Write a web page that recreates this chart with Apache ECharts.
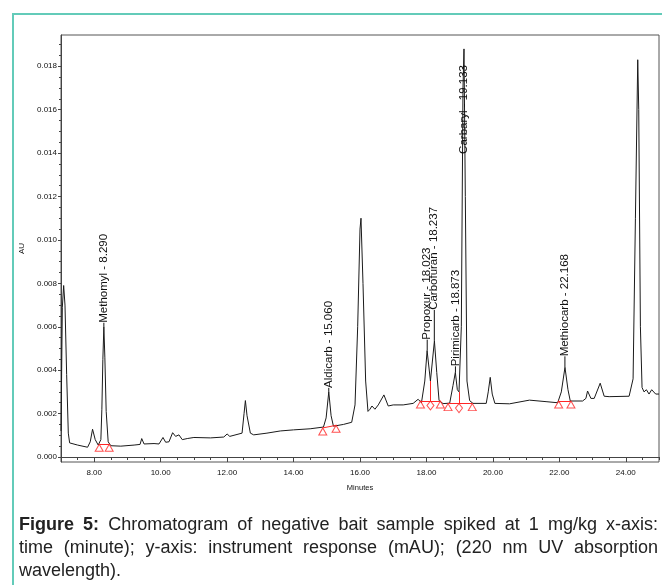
<!DOCTYPE html>
<html>
<head>
<meta charset="utf-8">
<script src="https://cdn.jsdelivr.net/npm/echarts@6/dist/echarts.min.js"></script>
<style>
  body { margin: 0; background: #fff; }
  #wrap { position: relative; width: 662px; height: 585px; overflow: hidden; }
  #frame {
    position: absolute; left: 12px; top: 13px; width: 700px; height: 700px;
    border-left: 2px solid #63cbb9; border-top: 2px solid #63cbb9;
  }
  #chart { position: absolute; left: 0; top: 0; width: 662px; height: 585px; }
  #caption {
    position: absolute; left: 19px; top: 513px; width: 639px;
    font-family: 'Liberation Sans', Arial, sans-serif;
    font-size: 18px; line-height: 23px; color: #222;
  }
  #caption .j { text-align: justify; text-align-last: justify; white-space: nowrap; }
</style>
</head>
<body>
<div id="wrap">
  <div id="frame"></div>
  <div id="chart"></div>
  <div id="caption">
    <div class="j"><b>Figure 5:</b> Chromatogram of negative bait sample spiked at 1 mg/kg x-axis:</div>
    <div class="j">time (minute); y-axis: instrument response (mAU); (220 nm UV absorption</div>
    <div>wavelength).</div>
  </div>
</div>
<script>
// 色谱数据（时间 min / 响应 AU）
const times = [
  7.00, 7.04, 7.08, 7.12, 7.17, 7.22, 7.26, 7.50, 7.80, 7.88, 7.95, 8.03, 8.12,
  8.20, 8.23, 8.26, 8.29, 8.32, 8.36, 8.42, 8.50, 8.80, 9.20, 9.38, 9.43, 9.50,
  9.80, 9.95, 10.07, 10.15, 10.25, 10.36, 10.45, 10.55, 10.65, 10.80, 11.00, 11.50,
  11.90, 12.00, 12.08, 12.45, 12.51, 12.55, 12.60, 12.70, 12.80, 13.20, 13.60,
  14.00, 14.50, 14.90, 14.98, 15.06, 15.13, 15.20, 15.50, 15.75, 15.85, 15.93,
  16.00, 16.03, 16.09, 16.17, 16.24, 16.30, 16.36, 16.45, 16.55, 16.72, 16.85,
  17.00, 17.30, 17.60, 17.75, 17.85, 17.95, 18.02, 18.12, 18.24, 18.31, 18.38,
  18.50, 18.70, 18.80, 18.87, 18.93, 18.98, 19.05, 19.10, 19.13, 19.17, 19.22,
  19.30, 19.40, 19.80, 19.86, 19.92, 19.98, 20.06, 20.50, 21.10, 21.60, 21.95,
  22.06, 22.17, 22.26, 22.33, 22.70, 22.80, 22.85, 22.95, 23.05, 23.23, 23.35,
  23.50, 24.10, 24.22, 24.29, 24.36, 24.39, 24.44, 24.49, 24.55, 24.62, 24.70,
  24.78, 24.90, 25.00
];
const response = [
  0.0012, 0.0069, 0.0079, 0.0070, 0.0038, 0.0011, 0.00065, 0.00055, 0.00045, 0.0007, 0.00128, 0.0008, 0.00055,
  0.0008, 0.0022, 0.0045, 0.0060, 0.0046, 0.0021, 0.0007, 0.00052, 0.0005, 0.00055, 0.00058, 0.00085, 0.0006,
  0.00062, 0.0006, 0.0009, 0.00068, 0.0007, 0.00112, 0.00095, 0.00102, 0.0008, 0.00085, 0.0009, 0.00088,
  0.00092, 0.00106, 0.00095, 0.0011, 0.0020, 0.0026, 0.0019, 0.0011, 0.00102, 0.0011, 0.0012,
  0.00125, 0.0013, 0.00138, 0.0018, 0.0030, 0.0019, 0.00142, 0.0015, 0.0016, 0.0024, 0.0060,
  0.0105, 0.0110, 0.0080, 0.0035, 0.0021, 0.0022, 0.00235, 0.0022, 0.0024, 0.00286, 0.00235,
  0.0024, 0.0024, 0.00247, 0.00266, 0.0025, 0.0035, 0.0049, 0.0035, 0.00535, 0.0039, 0.0026,
  0.00246, 0.00248, 0.0033, 0.0039, 0.0031, 0.0030, 0.0060, 0.0170, 0.0188, 0.0120, 0.0035,
  0.0026, 0.00247, 0.00247, 0.0030, 0.00367, 0.0029, 0.00247, 0.00245, 0.00262, 0.00255, 0.0025,
  0.0030, 0.00413, 0.0031, 0.00258, 0.00258, 0.0027, 0.00304, 0.0027, 0.0027, 0.0034, 0.0028,
  0.00278, 0.0028, 0.0036, 0.0110, 0.0183, 0.0160, 0.0060, 0.0032, 0.0030, 0.0031, 0.0029,
  0.0031, 0.0029, 0.0029
];

// 峰标注
const peakNames = ['Methomyl', 'Aldicarb', 'Propoxur', 'Carbofuran', 'Pirimicarb', 'Carbaryl', 'Methiocarb'];
const peakTimes = [8.290, 15.060, 18.023, 18.237, 18.873, 19.133, 22.168];
const peakHeights = [0.0060, 0.0030, 0.0049, 0.00535, 0.0039, 0.0188, 0.00413];

// 积分标记（t = 三角, d = 菱形）
const markTimes = [8.15, 8.45, 14.88, 15.28, 17.82, 18.12, 18.42, 18.65, 18.98, 19.38, 21.98, 22.35];
const markLevels = [0.00059, 0.00059, 0.00134, 0.00146, 0.00258, 0.00258, 0.00258, 0.00246, 0.00246, 0.00246, 0.00258, 0.00258];
const markKinds = ['t', 't', 't', 't', 't', 'd', 't', 't', 'd', 't', 't', 't'];
const markGroups = [0, 0, 1, 1, 2, 2, 2, 3, 3, 3, 4, 4];
const valleyTops = [0.0035, 0.0030]; // 菱形处的谷值

// 坐标轴刻度
const xTicks = [8, 10, 12, 14, 16, 18, 20, 22, 24];
const yTicks = [0, 0.002, 0.004, 0.006, 0.008, 0.010, 0.012, 0.014, 0.016, 0.018];

// 样式（像素）
const labelGaps = [4, 4, 11, 31, 6, -105, 11];
const RED = '#ff2626';
const FONT = "'Liberation Sans', Arial, sans-serif";

const xMinor = [];
for (let v = 7; v <= 25.001; v += 0.5) xMinor.push(+v.toFixed(2));
const yMinor = [];
for (let v = 0; v <= 0.0194; v += 0.0005) yMinor.push(+v.toFixed(4));

const trace = times.map((t, i) => [t, response[i]]);

const segs = [];
for (let i = 1; i < markTimes.length; i++) {
  if (markGroups[i] === markGroups[i - 1]) {
    segs.push({ coords: [[markTimes[i - 1], markLevels[i - 1]], [markTimes[i], markLevels[i]]] });
  }
}
let vi = 0;
markKinds.forEach((k, i) => {
  if (k === 'd') {
    segs.push({ coords: [[markTimes[i], markLevels[i]], [markTimes[i], valleyTops[vi++]]] });
  }
});

const tris = [], dias = [];
markKinds.forEach((k, i) => {
  (k === 't' ? tris : dias).push([markTimes[i], markLevels[i]]);
});

let myChart = echarts.init(document.getElementById('chart'), null, { renderer: 'canvas' });

const axisCommon = {
  type: 'value',
  splitLine: { show: false },
  axisLine: { show: true, lineStyle: { color: '#444', width: 1 } }
};

let option = {
  animation: false,
  grid: { left: 61, right: 3, top: 35, bottom: 123, show: true, borderColor: '#555', borderWidth: 1 },
  xAxis: [
    Object.assign({}, axisCommon, {
      min: 7, max: 25,
      name: 'Minutes', nameLocation: 'middle', nameGap: 22,
      nameTextStyle: { fontSize: 7.5, color: '#111', fontFamily: FONT },
      axisTick: { show: true, length: 5, customValues: xTicks, lineStyle: { color: '#444' } },
      axisLabel: {
        customValues: xTicks, margin: 7, fontSize: 8, color: '#111', fontFamily: FONT,
        formatter: v => v.toFixed(2)
      }
    }),
    {
      type: 'value', min: 7, max: 25, position: 'bottom',
      axisLine: { show: false }, axisLabel: { show: false }, splitLine: { show: false },
      axisTick: { show: true, length: 3, customValues: xMinor, lineStyle: { color: '#444' } }
    }
  ],
  yAxis: [
    Object.assign({}, axisCommon, {
      min: -0.00023, max: 0.01944,
      name: 'AU', nameLocation: 'middle', nameGap: 27,
      nameTextStyle: { fontSize: 8, color: '#111', fontFamily: FONT },
      axisTick: { show: true, length: 3, customValues: yTicks, lineStyle: { color: '#444' } },
      axisLabel: {
        customValues: yTicks, margin: 4, fontSize: 8, color: '#111', fontFamily: FONT,
        formatter: v => v.toFixed(3)
      }
    }),
    {
      type: 'value', min: -0.00023, max: 0.01944, position: 'left',
      axisLine: { show: false }, axisLabel: { show: false }, splitLine: { show: false },
      axisTick: { show: true, length: 2, customValues: yMinor, lineStyle: { color: '#444' } }
    }
  ],
  series: [
    {
      type: 'line', data: trace, showSymbol: false, smooth: false, z: 2,
      lineStyle: { color: '#1a1a1a', width: 1 }
    },
    {
      type: 'lines', coordinateSystem: 'cartesian2d', data: segs, z: 3,
      lineStyle: { color: RED, width: 1, opacity: 1 }
    },
    {
      type: 'scatter', data: tris, symbol: 'triangle', symbolSize: [8, 7], symbolOffset: [0, '50%'], z: 4,
      itemStyle: { color: 'rgba(255,255,255,0)', borderColor: RED, borderWidth: 1 }
    },
    {
      type: 'scatter', data: dias, symbol: 'diamond', symbolSize: [7, 9], symbolOffset: [0, '50%'], z: 4,
      itemStyle: { color: 'rgba(255,255,255,0)', borderColor: RED, borderWidth: 1 }
    },
    {
      // 峰名称（竖排）
      type: 'custom', z: 5,
      data: peakTimes.map((t, i) => [t, peakHeights[i], i]),
      renderItem: (params, api) => {
        const i = api.value(2);
        const p = api.coord([api.value(0), api.value(1)]);
        const gap = labelGaps[i];
        const children = [];
        if (gap > 0) {
          children.push({
            type: 'line',
            shape: { x1: p[0], y1: p[1], x2: p[0], y2: p[1] - gap },
            style: { stroke: '#111', lineWidth: 1 }
          });
        }
        children.push({
          type: 'text', x: p[0], y: p[1] - gap, rotation: Math.PI / 2,
          style: {
            text: peakNames[i] + ' - ' + peakTimes[i].toFixed(3),
            fill: '#111', font: '11.5px ' + FONT,
            align: 'left', verticalAlign: 'middle'
          }
        });
        return { type: 'group', children: children };
      }
    }
  ]
};

myChart.setOption(option);
</script>
</body>
</html>
